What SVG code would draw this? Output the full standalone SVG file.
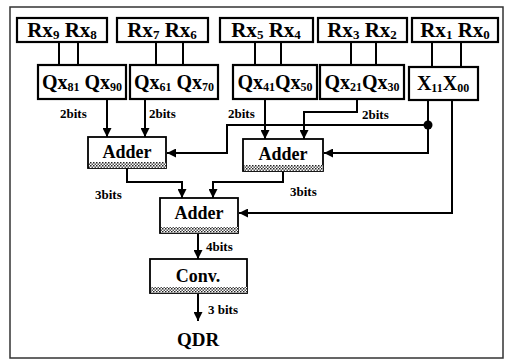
<svg xmlns="http://www.w3.org/2000/svg" width="505" height="360" viewBox="0 0 505 360">
<defs>
<pattern id="hatch" width="3" height="3" patternUnits="userSpaceOnUse">
<rect width="3" height="3" fill="#fff"/>
<rect width="1.5" height="1.5" fill="#222"/>
<rect x="1.5" y="1.5" width="1.5" height="1.5" fill="#555"/>
</pattern>
<marker id="arr" viewBox="0 0 10 10" refX="10" refY="5" markerWidth="4.5" markerHeight="4.5" orient="auto" markerUnits="strokeWidth">
<path d="M0,0 L10,5 L0,10 Z" fill="#000"/>
</marker>
</defs>
<style>
.box{fill:#fff;stroke:#000;stroke-width:2.2}
.blk{fill:#fff;stroke:#000;stroke-width:1.8}
text{font-family:"Liberation Serif","DejaVu Serif","Times New Roman",serif;font-weight:bold;fill:#000}
.t{text-anchor:middle}
.big{font-size:21px}
.mid{font-size:20px}
.adder{font-size:18px}
.lbl{font-size:13px}
.ln{fill:none;stroke:#000;stroke-width:2}
.ar{fill:none;stroke:#000;stroke-width:2;marker-end:url(#arr)}
</style>
<rect x="10" y="7" width="493" height="351" fill="none" stroke="#333" stroke-width="1.5"/>

<g id="connectors">
<path class="ln" d="M59,42V65M78,42V65M156,42V65M183,42V65M255,42V65M281,42V65M351,42V65M376,42V65M432,42V67M461,42V67"/>
<path class="ar" d="M107,99V137"/>
<path class="ar" d="M145,99V137"/>
<path class="ar" d="M265,99V139"/>
<path class="ar" d="M357,99V112H304V139"/>
<path class="ar" d="M428,100V153H324"/>
<path class="ar" d="M428,125H227V153H167"/>
<circle cx="428" cy="125" r="4.5" fill="#000"/>
<path class="ar" d="M452,100V213H239"/>
<path class="ar" d="M127,168V182H182V198"/>
<path class="ar" d="M283,172V182H213V198"/>
<path class="ar" d="M198,234V259"/>
<path class="ar" d="M198,294V321"/>
</g>

<g id="rx98"><rect class="box" x="17" y="18" width="90" height="24"/><text class="t big" x="62" y="37">Rx<tspan font-size="13" dy="2">9</tspan><tspan dy="-2"> Rx</tspan><tspan font-size="13" dy="2">8</tspan></text></g>
<g id="rx76"><rect class="box" x="117" y="18" width="91" height="24"/><text class="t big" x="162" y="37">Rx<tspan font-size="13" dy="2">7</tspan><tspan dy="-2"> Rx</tspan><tspan font-size="13" dy="2">6</tspan></text></g>
<g id="rx54"><rect class="box" x="220" y="18" width="93" height="24"/><text class="t big" x="266" y="37">Rx<tspan font-size="13" dy="2">5</tspan><tspan dy="-2"> Rx</tspan><tspan font-size="13" dy="2">4</tspan></text></g>
<g id="rx32"><rect class="box" x="318" y="18" width="89" height="24"/><text class="t big" x="362" y="37">Rx<tspan font-size="13" dy="2">3</tspan><tspan dy="-2"> Rx</tspan><tspan font-size="13" dy="2">2</tspan></text></g>
<g id="rx10"><rect class="box" x="412" y="18" width="86" height="24"/><text class="t big" x="455" y="37">Rx<tspan font-size="13" dy="2">1</tspan><tspan dy="-2"> Rx</tspan><tspan font-size="13" dy="2">0</tspan></text></g>

<g id="q8190"><rect class="box" x="38" y="65" width="88" height="34"/><text class="t mid" x="82" y="89">Qx<tspan font-size="12" dy="2">81</tspan><tspan dy="-2"> Qx</tspan><tspan font-size="12" dy="2">90</tspan></text></g>
<g id="q6170"><rect class="box" x="130" y="65" width="88" height="34"/><text class="t mid" x="174" y="89">Qx<tspan font-size="12" dy="2">61</tspan><tspan dy="-2"> Qx</tspan><tspan font-size="12" dy="2">70</tspan></text></g>
<g id="q4150"><rect class="box" x="233" y="65" width="84" height="34"/><text class="t mid" x="275" y="89">Qx<tspan font-size="12" dy="2">41</tspan><tspan dy="-2">Qx</tspan><tspan font-size="12" dy="2">50</tspan></text></g>
<g id="q2130"><rect class="box" x="320" y="65" width="84" height="34"/><text class="t mid" x="362" y="89">Qx<tspan font-size="12" dy="2">21</tspan><tspan dy="-2">Qx</tspan><tspan font-size="12" dy="2">30</tspan></text></g>
<g id="x1100"><rect class="box" x="409" y="67" width="69" height="33"/><text class="t mid" x="443" y="90">X<tspan font-size="12" dy="2">11</tspan><tspan dy="-2">X</tspan><tspan font-size="12" dy="2">00</tspan></text></g>

<g id="adder1"><rect class="blk" x="88" y="137" width="78" height="31"/><rect x="89" y="162" width="77" height="6" fill="url(#hatch)"/><text class="t adder" x="127" y="158">Adder</text></g>
<g id="adder2"><rect class="blk" x="243" y="139" width="80" height="32"/><rect x="244" y="165" width="79" height="6" fill="url(#hatch)"/><text class="t adder" x="283" y="160">Adder</text></g>
<g id="adder3"><rect class="blk" x="160" y="198" width="78" height="35"/><rect x="161" y="227" width="77" height="6" fill="url(#hatch)"/><text class="t adder" x="199" y="219">Adder</text></g>
<g id="conv"><rect class="blk" x="150" y="259" width="97" height="34"/><rect x="151" y="287" width="96" height="6" fill="url(#hatch)"/><text class="t adder" x="198" y="282">Conv.</text></g>

<g id="labels">
<text class="lbl" x="60" y="118">2bits</text>
<text class="lbl" x="149" y="118">2bits</text>
<text class="lbl" x="228" y="118">2bits</text>
<text class="lbl" x="362" y="119">2bits</text>
<text class="lbl" x="95" y="199">3bits</text>
<text class="lbl" x="290" y="196">3bits</text>
<text class="lbl" x="206" y="251">4bits</text>
<text class="lbl" x="208" y="314">3 bits</text>
<text class="t" font-size="19" x="198" y="346">QDR</text>
</g>
</svg>
